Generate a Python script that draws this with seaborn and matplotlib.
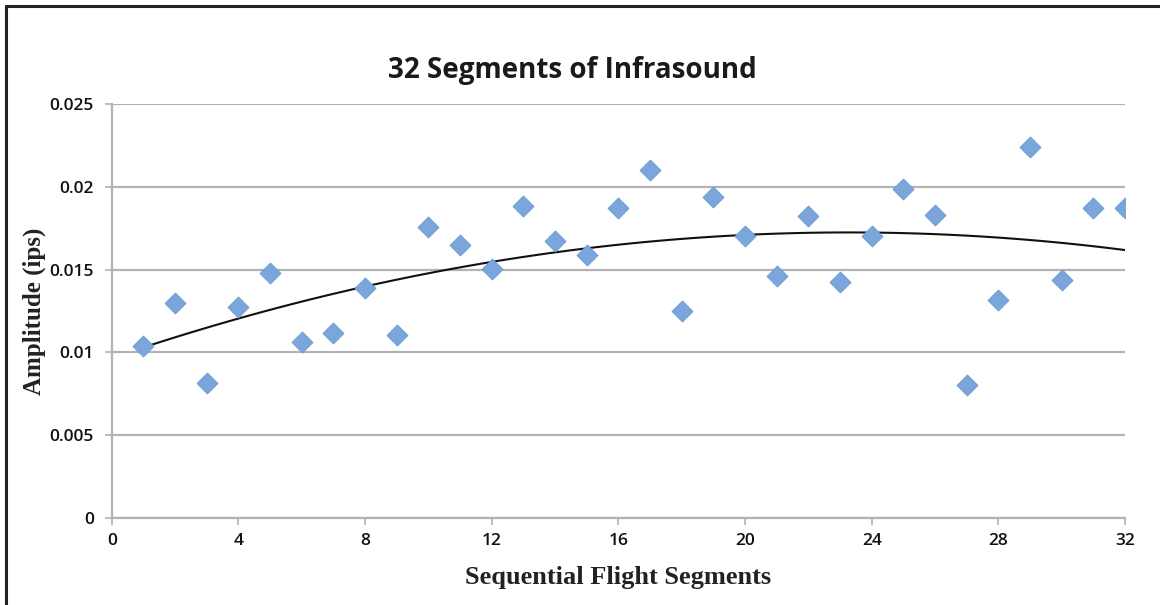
import numpy as np
import pandas as pd
import matplotlib
matplotlib.use("Agg")
import matplotlib.pyplot as plt
from matplotlib.lines import Line2D
import seaborn as sns

segments = list(range(1, 33))
amplitude = [0.01036, 0.0130, 0.00813, 0.01277, 0.01482, 0.0106, 0.0112, 0.01392,
             0.01108, 0.01759, 0.0165, 0.01506, 0.01886, 0.01675, 0.0159, 0.01873,
             0.02102, 0.01253, 0.0194, 0.01705, 0.01464, 0.01825, 0.01428, 0.01705,
             0.01988, 0.01831, 0.00801, 0.01319, 0.02241, 0.0144, 0.01873, 0.01873]
x_ticks = [0, 4, 8, 12, 16, 20, 24, 28, 32]
y_ticks = [0, 0.005, 0.01, 0.015, 0.02, 0.025]
y_tick_labels = ["0", "0.005", "0.01", "0.015", "0.02", "0.025"]

df = pd.DataFrame({"Segment": segments, "Amplitude": amplitude})

sns.set_theme(style="white")
plt.rcParams['font.family'] = ['Open Sans', 'DejaVu Sans']

fig = plt.figure(figsize=(11.6, 6.05), dpi=100)
ax = fig.add_axes([0.0963, 0.1438, 0.8735, 0.6842])

sns.regplot(data=df, x="Segment", y="Amplitude", order=2, ci=None, scatter=False,
            truncate=True, line_kws={"color": "#111111", "lw": 1.5}, ax=ax)
sns.scatterplot(data=df, x="Segment", y="Amplitude", marker="D", s=115,
                color="#7aa6dc", edgecolor="#6e9bd4", linewidth=0.6, ax=ax, zorder=3)

ax.set_xlim(0, 32)
ax.set_ylim(0, 0.025)
ax.set_xticks(x_ticks)
ax.set_yticks(y_ticks)
ax.set_yticklabels(y_tick_labels)
ax.grid(axis="y", color="#b3b3b3", lw=1.6)
ax.set_axisbelow(True)
for s in ["top", "right"]:
    ax.spines[s].set_visible(False)
ax.spines["left"].set_color("#b3b3b3")
ax.spines["bottom"].set_color("#b3b3b3")
ax.spines["left"].set_linewidth(1.6)
ax.spines["bottom"].set_linewidth(1.6)
ax.tick_params(axis="both", length=5, width=1.2, color="#b3b3b3", labelsize=12.5,
               labelcolor="#111111", bottom=True, left=True, pad=6)
ax.tick_params(axis="y", pad=8)
for lbl in ax.get_xticklabels() + ax.get_yticklabels():
    lbl.set_fontweight("semibold")

ax.set_xlabel("Sequential Flight Segments", fontfamily="Liberation Serif",
              fontweight="bold", fontsize=19, color="#222222", labelpad=12)
ax.set_ylabel("Amplitude (ips)", fontfamily="Liberation Serif",
              fontweight="bold", fontsize=18, color="#222222", labelpad=2)
fig.text(0.493, 0.884, "32 Segments of Infrasound", ha="center", va="center",
         fontsize=20, fontweight="bold", color="#1a1a1a")

fig.add_artist(Line2D([0.0055, 1.0], [0.99, 0.99], transform=fig.transFigure,
                      color="#222222", lw=2.2))
fig.add_artist(Line2D([0.0055, 0.0055], [0.0, 0.99], transform=fig.transFigure,
                      color="#222222", lw=2.2))

fig.savefig("out.png", dpi=100, facecolor="white")
